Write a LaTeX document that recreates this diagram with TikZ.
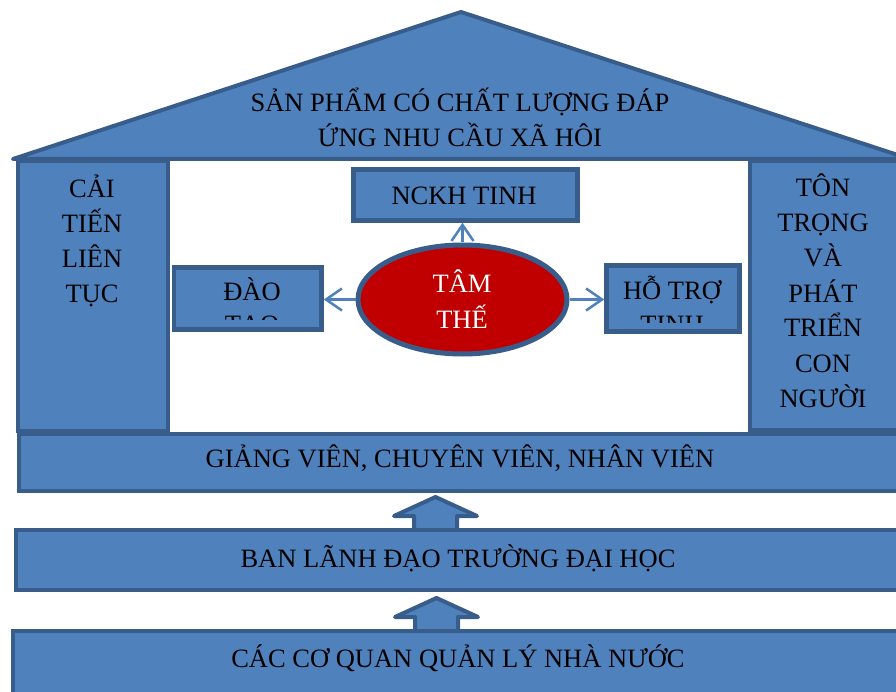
\documentclass[tikz,border=0pt]{standalone}
\usepackage{fontspec}
\setmainfont{Liberation Serif}
\usetikzlibrary{shapes.geometric,arrows.meta}
\definecolor{fillblue}{RGB}{79,129,189}
\definecolor{edgeblue}{RGB}{56,93,138}
\definecolor{coreRed}{RGB}{192,0,0}
\definecolor{paleEdge}{RGB}{200,212,228}
\begin{document}
\begin{tikzpicture}[x=1pt,y=-1pt,
  panel/.style={rectangle,draw=edgeblue,fill=fillblue,line width=4pt,inner sep=0pt},
  lbl/.style={inner sep=0pt,anchor=base,font=\fontsize{26.5}{35}\selectfont,text=black},
  conn/.style={draw=fillblue,line width=2.5pt,-{Straight Barb[length=16pt,width=22pt]}},
  blockarrow/.style={draw=edgeblue,fill=fillblue,line width=4pt,line join=round}]
\useasboundingbox (0,0) rectangle (896,692);
\clip (0,0) rectangle (896,692);

% open hall between the two pillars
\node[rectangle,draw=paleEdge,fill=white,line width=1pt,minimum width=582pt,minimum height=271pt,inner sep=0pt] (hall) at (458,296.5) {};

% pillars
\node[panel,minimum width=150pt,minimum height=270pt] (leftcol) at (92.5,296) {};
\node[panel,minimum width=155.5pt,minimum height=269pt] (rightcol) at (827.25,295.5) {};

% roof
\draw[blockarrow] (13,159) -- (461,12) -- (910,159) -- cycle;
\node[lbl] (roof1) at (460,112) {SẢN PHẨM CÓ CHẤT LƯỢNG ĐÁP};
\node[lbl] (roof2) at (460,147) {ỨNG NHU CẦU XÃ HÔI};

% pillar captions
\foreach \t [count=\i] in {CẢI,TIẾN,LIÊN,TỤC}
  \node[lbl] (lc\i) at (92,163+35*\i) {\t};
\foreach \t [count=\i] in {TÔN,TRỌNG,VÀ,PHÁT,TRIỂN,CON,NGƯỜI}
  \node[lbl] (rc\i) at (823,162+35*\i) {\t};

% upward block arrows between the floors
\draw[blockarrow] (435.5,497) -- (477,516) -- (457,516) -- (457,531) -- (414,531) -- (414,516) -- (394,516) -- cycle;
\draw[blockarrow] (436.5,598) -- (478,617) -- (458,617) -- (458,632) -- (415,632) -- (415,617) -- (395,617) -- cycle;

% floors
\node[panel,minimum width=886pt,minimum height=57pt] (staff) at (462,462.5) {};
\node[lbl] (stafft) at (460,467) {GIẢNG VIÊN, CHUYÊN VIÊN, NHÂN VIÊN};
\node[panel,minimum width=889.5pt,minimum height=60pt] (board) at (460.25,559.5) {};
\node[lbl] (boardt) at (458,567) {BAN LÃNH ĐẠO TRƯỜNG ĐẠI HỌC};
\node[panel,minimum width=892pt,minimum height=70pt] (state) at (459,665.5) {};
\node[lbl] (statet) at (458,667) {CÁC CƠ QUAN QUẢN LÝ NHÀ NƯỚC};

% inner boxes
\node[panel,line width=4.5pt,minimum width=224pt,minimum height=51pt] (nckh) at (465.5,195) {};
\node[lbl] (nckht) at (464,205) {NCKH TINH};
\node[panel,line width=4.5pt,minimum width=147.5pt,minimum height=62pt] (dao) at (247.75,298.5) {};
\node[panel,line width=4.5pt,minimum width=133pt,minimum height=66pt] (htro) at (673,298.5) {};
\begin{scope}
  \clip (176,270) rectangle (320,319);
  \node[lbl] (daot1) at (252,301) {ĐÀO};
  \node[lbl] (daot2) at (252,334) {TẠO};
\end{scope}
\begin{scope}
  \clip (609,268) rectangle (737,322);
  \node[lbl] (htrot1) at (672,300) {HỖ TRỢ};
  \node[lbl] (htrot2) at (672,333) {TINH};
\end{scope}

% centre ellipse
\node[ellipse,draw=edgeblue,fill=coreRed,line width=5pt,minimum width=209pt,minimum height=109pt,inner sep=0pt] (ell) at (462.5,299.5) {};
\node[lbl,text=white] (ellt1) at (462,293) {TÂM};
\node[lbl,text=white] (ellt2) at (462,328) {THẾ};

% connectors from the ellipse
\draw[conn] (ell.north) -- (ell.north |- nckh.south);
\draw[conn] (ell.west) -- (ell.west -| dao.east);
\draw[conn] (ell.east) -- (ell.east -| htro.west);
\end{tikzpicture}
\end{document}
